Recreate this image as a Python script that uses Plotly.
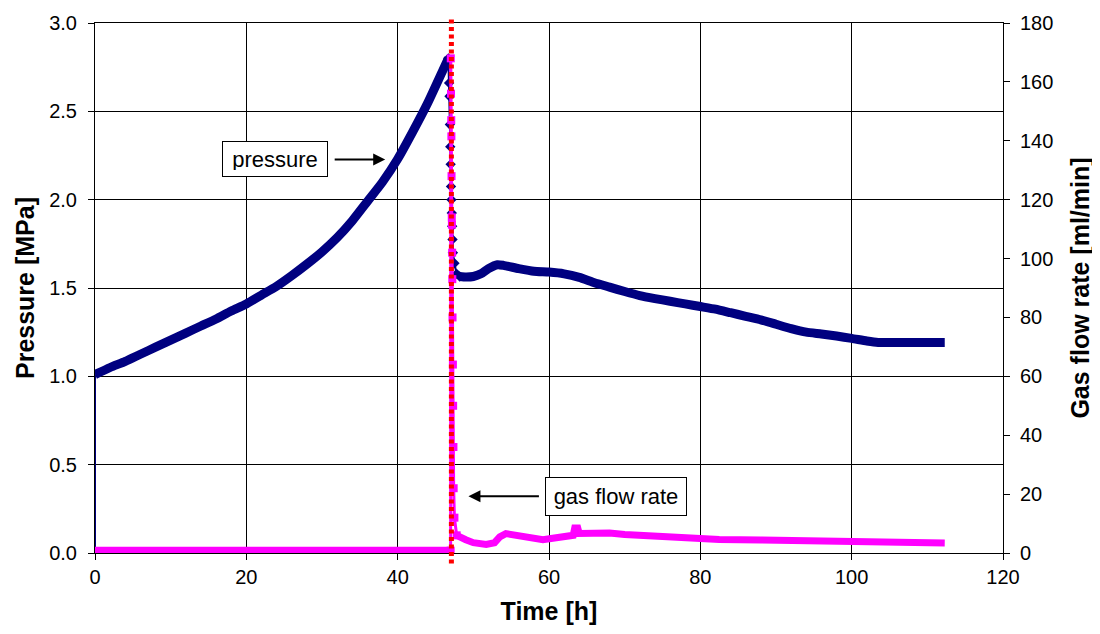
import plotly.graph_objects as go

# ---------------- data ----------------
# Pressure [MPa] – build-up before release
t_p_rise = [0, 2, 4, 6, 8, 10, 12, 14, 16, 18, 20, 22, 24, 26, 28, 30, 32, 34, 36, 38, 40, 42, 44, 46, 46.7]
p_rise = [1.01, 1.05, 1.085, 1.125, 1.165, 1.205, 1.245, 1.285, 1.325, 1.37, 1.41, 1.46, 1.51, 1.57,
          1.635, 1.705, 1.785, 1.88, 1.99, 2.10, 2.23, 2.385, 2.55, 2.735, 2.80]
# first reading at t=0
t_p_start = [0, 0]
p_start = [0.0, 1.01]
# Pressure – rapid drop at gas release
t_p_drop = [46.7, 46.8, 46.85, 46.9, 46.95, 47.0, 47.05, 47.1, 47.15, 47.2, 47.25, 47.3, 47.5, 47.8, 48.2]
p_drop = [2.80, 2.66, 2.585, 2.425, 2.30, 2.20, 2.075, 2.0, 1.925, 1.85, 1.775, 1.70, 1.64, 1.58, 1.565]
# Pressure – after release
t_p_tail = [48.2, 49, 50, 51, 52, 53.2, 54, 56, 58, 60, 62, 64, 66, 68, 70, 72, 74, 76, 78, 80, 82, 84,
            86, 88, 90, 92, 94, 96, 98, 100, 102, 103.5, 106, 110, 112.3]
p_tail = [1.565, 1.562, 1.565, 1.58, 1.61, 1.632, 1.628, 1.61, 1.595, 1.59, 1.58, 1.56, 1.53, 1.505, 1.48,
          1.457, 1.44, 1.425, 1.41, 1.395, 1.38, 1.36, 1.34, 1.32, 1.295, 1.27, 1.25, 1.24, 1.228,
          1.215, 1.20, 1.192, 1.192, 1.192, 1.192]

# Gas flow rate [ml/min]
t_g_pre = [0, 47.0]
g_pre = [0.8, 0.8]
t_g_drop = [47.0, 47.02, 47.05, 47.08, 47.1, 47.12, 47.15, 47.17, 47.2, 47.22, 47.25, 47.3, 47.33,
            47.37, 47.4, 47.5, 47.8]
g_drop = [0.8, 168, 156, 147, 141.5, 128, 114, 111.5, 102, 93, 80, 64, 50, 36, 22, 12, 6]
t_g_tail = [47.8, 48, 49, 50, 51.7, 52.8, 53.5, 54.3, 56, 57.4, 59.2, 60.5, 62, 63.2, 63.4, 63.8, 64,
            66, 68, 70, 74, 78, 82.5, 88, 93, 100, 106, 112.3]
g_tail = [6, 5.7, 4.5, 3.5, 2.9, 3.5, 5.5, 6.6, 6.0, 5.5, 4.5, 5.0, 5.5, 6.0, 8.5, 8.5, 6.6,
          6.9, 6.8, 6.3, 5.7, 5.0, 4.6, 4.4, 4.3, 3.8, 3.6, 3.4]

t_release = 47.1  # red dotted marker line

x_ticks = [0, 20, 40, 60, 80, 100, 120]
y_ticks = [0, 0.5, 1.0, 1.5, 2.0, 2.5, 3.0]
y2_ticks = [0, 20, 40, 60, 80, 100, 120, 140, 160, 180]

# ---------------- styling ----------------
NAVY = "#000080"
MAG = "#FF00FF"
FONT = "Liberation Sans, Arial, sans-serif"

fig = go.Figure()

# pressure
fig.add_trace(go.Scatter(x=t_p_start, y=p_start, mode="lines",
                         line=dict(color=NAVY, width=2), showlegend=False))
fig.add_trace(go.Scatter(x=t_p_rise, y=p_rise, mode="lines",
                         line=dict(color=NAVY, width=9, shape="spline", smoothing=0.6), showlegend=False))
fig.add_trace(go.Scatter(x=t_p_drop, y=p_drop, mode="lines+markers",
                         line=dict(color=NAVY, width=2),
                         marker=dict(symbol="diamond", size=8, color=NAVY), showlegend=False))
fig.add_trace(go.Scatter(x=t_p_tail, y=p_tail, mode="lines",
                         line=dict(color=NAVY, width=9, shape="spline", smoothing=0.5), showlegend=False))

# gas flow rate
fig.add_trace(go.Scatter(x=t_g_pre, y=g_pre, yaxis="y2", mode="lines",
                         line=dict(color=MAG, width=8), showlegend=False))
fig.add_trace(go.Scatter(x=t_g_drop, y=g_drop, yaxis="y2", mode="lines+markers",
                         line=dict(color=MAG, width=3),
                         marker=dict(symbol="square", size=8, color=MAG), showlegend=False))
fig.add_trace(go.Scatter(x=t_g_tail, y=g_tail, yaxis="y2", mode="lines",
                         line=dict(color=MAG, width=7), showlegend=False))

fig.add_shape(type="line", xref="x", yref="paper", x0=t_release, x1=t_release, y0=-0.02, y1=1.01,
              line=dict(color="#FF0000", width=5, dash="4px,3.5px"), layer="above")

axis_common = dict(showgrid=True, gridcolor="#000000", gridwidth=1, ticks="outside", ticklen=6,
                   tickcolor="#000000", showline=True, linecolor="#000000", linewidth=1,
                   tickfont=dict(family=FONT, size=20, color="#000000"), zeroline=False,
                   automargin=False)

# the page body adds an 8px offset, so the figure is sized to fit the 1100x634 window
fig.update_layout(
    width=1092, height=626,
    margin=dict(l=87, r=97, t=15, b=81),
    paper_bgcolor="white", plot_bgcolor="white",
    font=dict(family=FONT, color="#000000"),
    xaxis=dict(range=[0, 120], tickvals=x_ticks, mirror=True,
               title=dict(text="<b>Time [h]</b>", font=dict(family=FONT, size=25), standoff=15),
               **axis_common),
    yaxis=dict(range=[0, 3.0], tickvals=y_ticks, tickformat=".1f", ticklabelstandoff=7,
               title=dict(text="<b>Pressure [MPa]</b>", font=dict(family=FONT, size=25), standoff=7),
               **axis_common),
    yaxis2=dict(range=[0, 180], tickvals=y2_ticks, overlaying="y", side="right", showgrid=False,
                ticks="outside", ticklen=6, tickcolor="#000000", showline=True, linecolor="#000000",
                tickfont=dict(family=FONT, size=20, color="#000000"), zeroline=False, automargin=False,
                ticklabelstandoff=6,
                title=dict(text="<b>Gas flow rate [ml/min]</b>", font=dict(family=FONT, size=25), standoff=19)),
    annotations=[
        dict(x=23.83, y=2.228, xref="x", yref="y", text="pressure", showarrow=False,
             font=dict(family=FONT, size=22, color="#000000"), bgcolor="white",
             bordercolor="#000000", borderwidth=1, borderpad=6, width=92, height=22),
        dict(x=38.35, y=2.228, xref="x", yref="y", text="", showarrow=True, ax=-52, ay=0,
             arrowhead=2, arrowsize=1.2, arrowwidth=2, arrowcolor="#000000"),
        dict(x=68.8, y=0.319, xref="x", yref="y", text="gas flow rate", showarrow=False,
             font=dict(family=FONT, size=22, color="#000000"), bgcolor="white",
             bordercolor="#000000", borderwidth=1, borderpad=6, width=128, height=25),
        dict(x=49.35, y=0.321, xref="x", yref="y", text="", showarrow=True, ax=72, ay=0,
             arrowhead=2, arrowsize=1.2, arrowwidth=2, arrowcolor="#000000"),
    ],
)

fig.write_html("out.html")
